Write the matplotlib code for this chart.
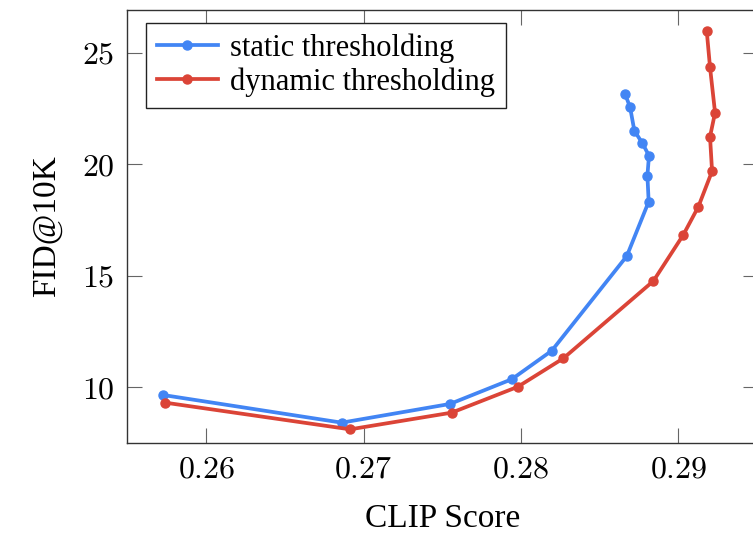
import numpy as np
import matplotlib.pyplot as plt
from matplotlib.ticker import FuncFormatter

plt.rcParams['font.family'] = ['Liberation Serif', 'DejaVu Serif']
plt.rcParams['mathtext.fontset'] = 'cm'

# static thresholding (CLIP score, FID@10K)
static_clip = [0.25727, 0.26861, 0.27549, 0.27942, 0.28196, 0.28673, 0.28812,
               0.28804, 0.28814, 0.28772, 0.28721, 0.28694, 0.28662]
static_fid = [9.64, 8.40, 9.24, 10.35, 11.63, 15.88, 18.32,
              19.49, 20.39, 20.95, 21.51, 22.56, 23.16]

# dynamic thresholding
dynamic_clip = [0.25737, 0.26914, 0.27560, 0.27980, 0.28270, 0.28842, 0.29032,
                0.29128, 0.29215, 0.29202, 0.29234, 0.29202, 0.29181]
dynamic_fid = [9.30, 8.10, 8.85, 10.01, 11.29, 14.76, 16.83,
               18.10, 19.69, 21.24, 22.32, 24.36, 26.00]

xticks = [0.26, 0.27, 0.28, 0.29]
yticks = [10, 15, 20, 25]

fig = plt.figure(figsize=(7.53, 5.34), dpi=100)
ax = fig.add_axes([127/753, 91.3/534, 631/753, 432.7/534])

ax.plot(static_clip, static_fid, color='#4285F4', lw=2.7, marker='o', ms=6.5,
        label='static thresholding')
ax.plot(dynamic_clip, dynamic_fid, color='#DB4437', lw=2.7, marker='o', ms=6.5,
        label='dynamic thresholding')

ax.set_xlim(0.254959, 0.29507)
ax.set_ylim(7.5, 26.93)
ax.set_xticks(xticks)
ax.set_yticks(yticks)
ax.xaxis.set_major_formatter(FuncFormatter(lambda v, p: '$%.2f$' % v))
ax.yaxis.set_major_formatter(FuncFormatter(lambda v, p: '$%d$' % v))
ax.tick_params(direction='in', length=11, width=0.8, color='#666666',
               labelsize=23, pad=9, top=True, right=True)
for s in ax.spines.values():
    s.set_color('#333333')
    s.set_linewidth(1.0)

ax.set_xlabel('CLIP Score', fontsize=24, labelpad=14)
ax.set_ylabel('FID@10K', fontsize=24, labelpad=14)

leg = ax.legend(loc='upper left', fontsize=22, frameon=True, fancybox=False,
                edgecolor='#222222', framealpha=1, handlelength=2.0,
                handletextpad=0.4, borderpad=0.35, labelspacing=0.15,
                borderaxespad=0, bbox_to_anchor=(0.030, 0.9707))
leg.get_frame().set_linewidth(1.0)

fig.savefig('out.png', dpi=100)
